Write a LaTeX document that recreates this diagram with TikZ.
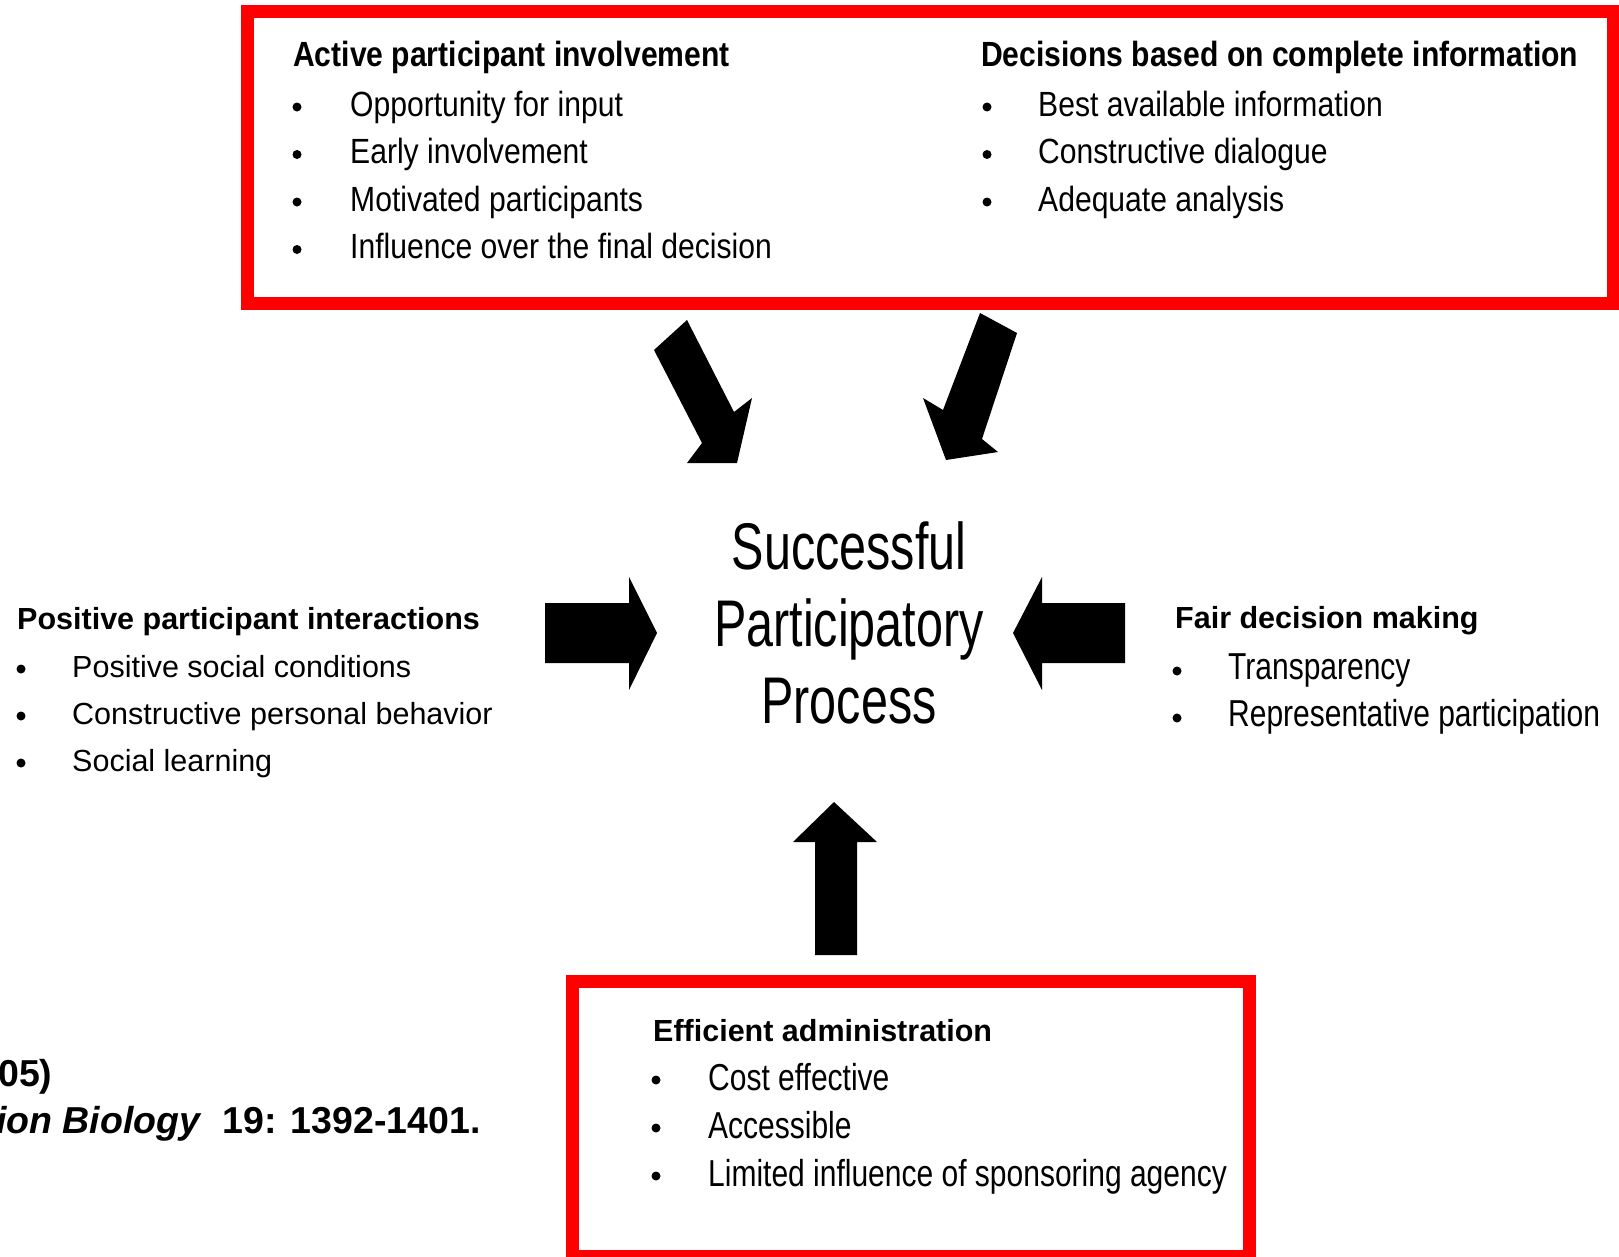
\documentclass[tikz,border=0pt]{standalone}
\usepackage{fontspec}
\setmainfont{Liberation Sans}
\newfontfamily\topfont[FakeStretch=0.86]{Liberation Sans}
\newfontfamily\tallfont[FakeStretch=0.8]{Liberation Sans}
\newfontfamily\midfont[FakeStretch=0.735]{Liberation Sans}
\begin{document}
\begin{tikzpicture}[x=1pt,y=-1pt,
    redbox/.style={draw=red,line width=13pt},
    bigarrow/.style={fill=black},
    dot/.style={circle,fill,inner sep=0pt,minimum size=9pt},
    txt/.style={anchor=base west,inner sep=0pt},
    tophead/.style={txt,font=\topfont\bfseries\fontsize{35}{42}\selectfont},
    topitem/.style={txt,font=\topfont\fontsize{35}{42}\selectfont},
    sidehead/.style={txt,font=\bfseries\fontsize{30.5}{36}\selectfont},
    sideitem/.style={txt,font=\fontsize{30.5}{36}\selectfont},
    tallitem/.style={txt,font=\tallfont\fontsize{37.5}{44}\selectfont}]
    \useasboundingbox (0,0) rectangle (1619,1256);
    \draw[redbox] (247.5,11.5) rectangle (1613.5,303.5);
    \draw[redbox] (572.5,981.5) rectangle (1249.5,1256.5);

    \node (act) at (293,66)[tophead] {Active participant involvement};
    \foreach \t [count=\i] in {Opportunity for input,Early involvement,Motivated participants,Influence over the final decision}
    {
        \node (actb\i) at (297,{107+47.5*(\i-1)})[dot] {};
        \node (acti\i) at (350,{116+47.5*(\i-1)})[topitem] {\t};
    }
    \node (dec) at (981,66)[tophead] {Decisions based on complete information};
    \foreach \t [count=\i] in {Best available information,Constructive dialogue,Adequate analysis}
    {
        \node (decb\i) at (987,{107+47.5*(\i-1)})[dot] {};
        \node (deci\i) at (1038,{116+47.5*(\i-1)})[topitem] {\t};
    }

    \node (pos) at (17,629)[sidehead] {Positive participant interactions};
    \foreach \t [count=\i] in {Positive social conditions,Constructive personal behavior,Social learning}
    {
        \node (posb\i) at (21,{669+47*(\i-1)})[dot] {};
        \node (posi\i) at (72,{677+47*(\i-1)})[sideitem] {\t};
    }
    \node (fair) at (1175,628)[sidehead] {Fair decision making};
    \foreach \t [count=\i] in {Transparency,Representative participation}
    {
        \node (fairb\i) at (1177,{671+47*(\i-1)})[dot] {};
        \node (fairi\i) at (1228,{679+47*(\i-1)})[tallitem] {\t};
    }
    \node (eff) at (653,1041)[sidehead] {Efficient administration};
    \foreach \t [count=\i] in {Cost effective,Accessible,Limited influence of sponsoring agency}
    {
        \node (effb\i) at (656,{1080+48*(\i-1)})[dot] {};
        \node (effi\i) at (708,{1090+48*(\i-1)})[tallitem] {\t};
    }

    \node (spp) at (849,623)[inner sep=0pt,align=center,font=\midfont\fontsize{66}{77}\selectfont]
        {Successful\\Participatory\\Process};

    \node (cita) at (-2,1086)[txt,font=\bfseries\fontsize{37.5}{44}\selectfont] {05)};
    \node (citb) at (-4,1133)[txt,font=\bfseries\fontsize{37.5}{44}\selectfont]
        {\textit{ion Biology}\ \ 19: 1392-1401.};

    \fill[bigarrow] (687,320) -- (734,412) -- (752,398) -- (737,463) -- (687,463) -- (702,443) -- (654,350) -- cycle;
    \fill[bigarrow] (980,313) -- (1017,333) -- (982,439) -- (998,452) -- (946,460) -- (923,398) -- (943,410) -- cycle;
    \fill[bigarrow] (545,603) -- (629,603) -- (629,577) -- (657,633) -- (629,690) -- (629,663) -- (545,663) -- cycle;
    \fill[bigarrow] (1125,603) -- (1042,603) -- (1042,577) -- (1013,633) -- (1042,690) -- (1042,663) -- (1125,663) -- cycle;
    \fill[bigarrow] (815,955) -- (815,842) -- (793,842) -- (834,802) -- (877,842) -- (857,842) -- (857,955) -- cycle;
\end{tikzpicture}
\end{document}
